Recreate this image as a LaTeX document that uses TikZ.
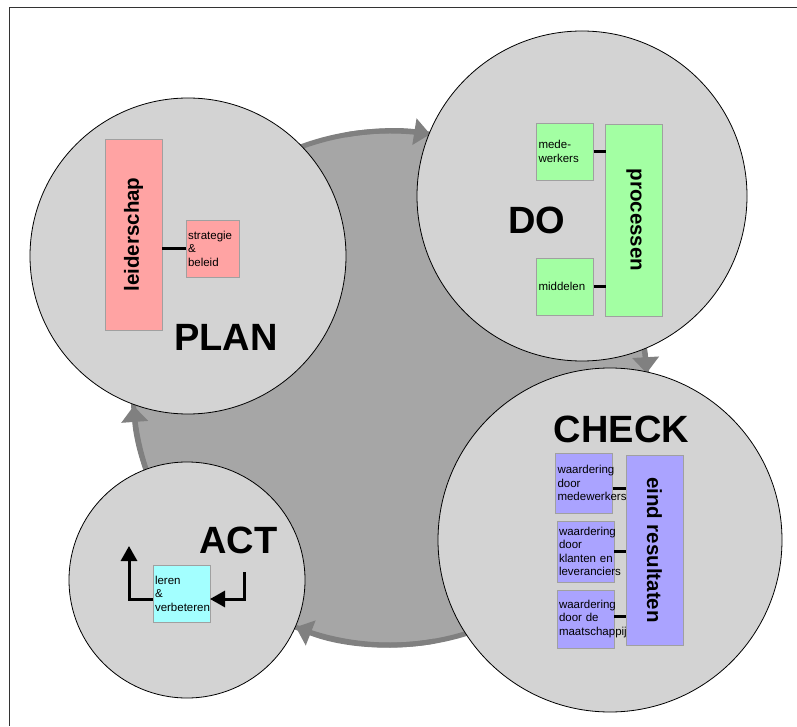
\documentclass[tikz,border=0pt]{standalone}
\usepackage{fontspec}
\setmainfont{Liberation Sans}
\usetikzlibrary{arrows.meta}
\definecolor{pcRing} {RGB}{166,166,166}
\definecolor{pcRingD}{RGB}{128,128,128}
\definecolor{pcDisc} {RGB}{211,211,211}
\definecolor{pcEdge} {RGB}{160,160,160}
\definecolor{pcRed}  {RGB}{255,163,163}
\definecolor{pcGreen}{RGB}{163,255,163}
\definecolor{pcBlue} {RGB}{170,163,255}
\definecolor{pcCyan} {RGB}{163,255,255}

\begin{document}
\begin{tikzpicture}[x=1pt,y=1pt,
  every node/.style={inner sep=0pt,outer sep=0pt},
  ring/.style={draw=pcRingD,line width=5pt,fill=pcRing,circle,minimum size=514pt},
  disc/.style={draw=black,line width=0.8pt,fill=pcDisc,circle},
  phase/.style={font=\fontsize{38}{40}\selectfont\bfseries},
  topic/.style={draw=pcEdge,line width=0.8pt,minimum width=57pt,
                font=\fontsize{20.5}{22}\selectfont\bfseries},
  item/.style={draw=pcEdge,line width=0.8pt,minimum height=57pt,text width=53pt,
               inner xsep=2pt,align=left,font=\fontsize{11.5}{13.5}\selectfont,
               execute at begin node={\hyphenpenalty=10000\relax}},
  link/.style={line width=3pt},
  turn/.style={line width=3pt,-{Triangle[length=15pt,width=16pt]}},
  flow/.style={pcRingD,line width=5pt,-{Triangle[length=16pt,width=26pt]}}
]
\useasboundingbox (0,0) rectangle (797,726);
\draw[black!80,line width=1pt] (797,718.7) -| (9.5,0);

\node[ring] (ring) at (390,338) {};
\draw[flow] (ring.100) arc[start angle=100,end angle=81,radius=257];
\draw[flow] (ring.20)  arc[start angle=20,end angle=3.3,radius=257];
\draw[flow] (ring.-80) arc[start angle=-80,end angle=-111.5,radius=257];
\draw[flow] (ring.210) arc[start angle=210,end angle=184,radius=257];

\node[disc,minimum size=316pt] (plan)  at (188,470) {};
\node[disc,minimum size=330pt] (do)    at (582,530) {};
\node[disc,minimum size=344pt] (check) at (610,186) {};
\node[disc,minimum size=236pt] (act)   at (187,146) {};

\node[phase] (planlbl)  at (226,388.5) {PLAN};
\node[phase] (dolbl)    at (537,506)   {DO};
\node[phase] (checklbl) at (621.5,297) {CHECK};
\node[phase] (actlbl)   at (238.5,186) {ACT};

\node[topic,fill=pcRed,minimum height=191pt] (leid) at (133.5,491.5) {\rotatebox{90}{leiderschap}};
\node[item,fill=pcRed,text width=49pt] (strat) at (212.5,477.5) {strategie\\\&\\beleid};
\draw[link] (strat.west) -- (strat.west -| leid.east);

\node[topic,fill=pcGreen,minimum height=192pt] (proc) at (634,506) {\rotatebox{-90}{processen}};
\node[item,fill=pcGreen] (mede) at (565,574.5) {mede-\\werkers};
\node[item,fill=pcGreen] (midd) at (565,439.5) {middelen};
\draw[link] (mede.east) -- (mede.east -| proc.west);
\draw[link] (midd.east) -- (midd.east -| proc.west);

\node[topic,fill=pcBlue,minimum height=190pt] (eind) at (654.5,176) {\rotatebox{-90}{eind resultaten}};
\node[item,fill=pcBlue,minimum height=60pt] (wmed) at (584,243)   {waardering\\door\\medewerkers};
\node[item,fill=pcBlue,minimum height=61pt] (wkla) at (585.5,174.5) {waardering\\door\\klanten~en\\leveranciers};
\node[item,fill=pcBlue,minimum height=58pt] (wmaa) at (585.5,107) {waardering\\door~de\\maatschappij};
\draw[link] ([yshift=-5pt]wmed.east) -- ([yshift=-5pt]wmed.east -| eind.west);
\draw[link] (wkla.east) -- (wkla.east -| eind.west);
\draw[link] ([yshift=3pt]wmaa.east) -- ([yshift=3pt]wmaa.east -| eind.west);

\node[item,fill=pcCyan] (leren) at (181.5,132.5) {leren\\\&\\verbeteren};
\coordinate (up)   at (129,180);
\coordinate (back) at (244,154);
\draw[turn] ([yshift=-5.5pt]leren.west) -| (up);
\draw[turn] (back) |- ([yshift=-5.5pt]leren.east);
\end{tikzpicture}
\end{document}
